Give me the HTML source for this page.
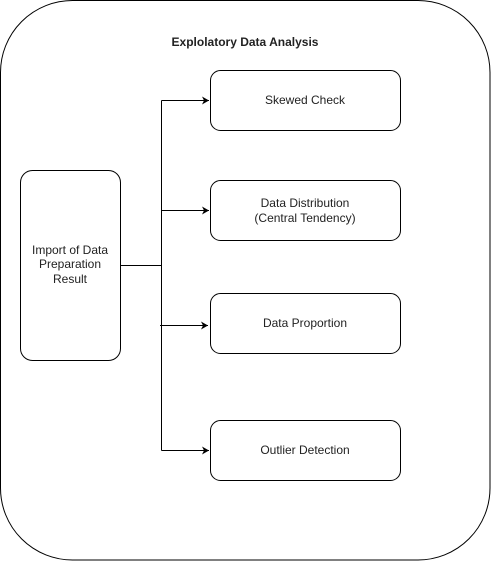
<!DOCTYPE html>
<html><head><style>html,body{margin:0;padding:0;background:#fff;}</style></head>
<body>
<svg width="491" height="561" xmlns="http://www.w3.org/2000/svg" style="display:block">
<defs><marker id="a" markerWidth="8" markerHeight="8" refX="7" refY="4" orient="auto" markerUnits="userSpaceOnUse"><path d="M0,0 L7,4 L0,8 L2,4 Z" fill="#000"/></marker></defs>
<rect x="0.5" y="0.5" width="489.5" height="559.5" rx="72" ry="72" fill="#fff" stroke="#000"/>
<text x="245" y="46" text-anchor="middle" font-family="Liberation Sans, sans-serif" font-size="12" font-weight="bold" fill="#222">Explolatory Data Analysis</text>
<rect x="20.5" y="170.5" width="100" height="190" rx="12" fill="#fff" stroke="#000"/>
<g font-family="Liberation Sans, sans-serif" font-size="12" fill="#222" text-anchor="middle">
<text x="70" y="254">Import of Data</text>
<text x="70" y="268">Preparation</text>
<text x="70" y="283">Result</text>
</g>
<g fill="#fff" stroke="#000">
<rect x="210.5" y="70.5" width="190" height="60" rx="10"/>
<rect x="210.5" y="180.5" width="190" height="60" rx="10"/>
<rect x="210.5" y="293.5" width="190" height="60" rx="10"/>
<rect x="210.5" y="420.5" width="190" height="60" rx="10"/>
</g>
<g fill="none" stroke="#000">
<path d="M120.5,265.5 H161.5"/>
<path d="M161.5,100.5 V450.5"/>
<path d="M161.5,100.5 H209" marker-end="url(#a)"/>
<path d="M161.5,210.5 H209" marker-end="url(#a)"/>
<path d="M160,325.5 H208" marker-end="url(#a)"/>
<path d="M161.5,450.5 H209" marker-end="url(#a)"/>
</g>
<g font-family="Liberation Sans, sans-serif" font-size="12" fill="#222" text-anchor="middle">
<text x="305" y="104">Skewed Check</text>
<text x="305" y="207">Data Distribution</text>
<text x="305" y="222">(Central Tendency)</text>
<text x="305" y="327">Data Proportion</text>
<text x="305" y="454">Outlier Detection</text>
</g>
</svg>
</body></html>
